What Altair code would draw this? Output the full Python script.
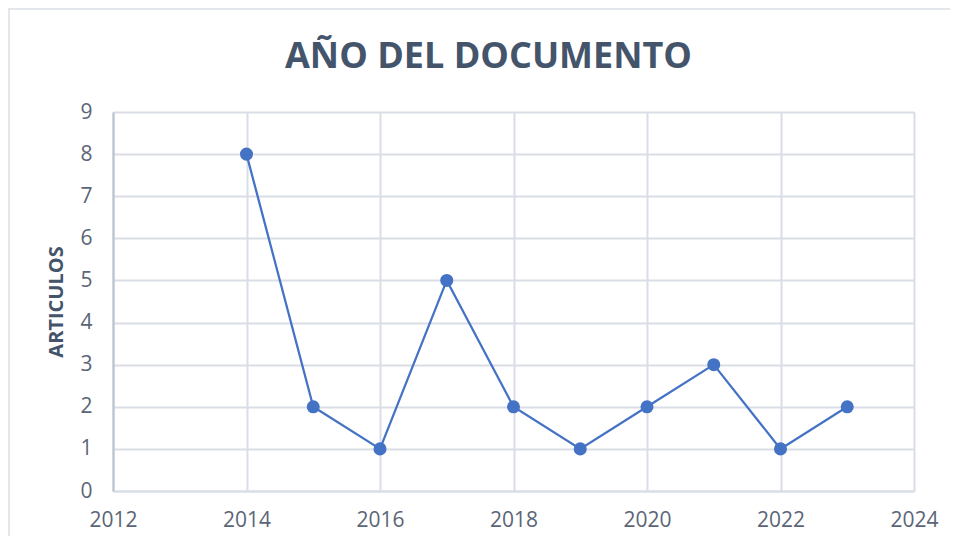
import altair as alt
import pandas as pd

years = [2014, 2015, 2016, 2017, 2018, 2019, 2020, 2021, 2022, 2023]
articulos = [8, 2, 1, 5, 2, 1, 2, 3, 1, 2]
x_ticks = [2012, 2014, 2016, 2018, 2020, 2022, 2024]
y_ticks = [0, 1, 2, 3, 4, 5, 6, 7, 8, 9]
title_text = ["AÑO DEL DOCUMENTO"]

df = pd.DataFrame({"year": years, "n": articulos})

TEXT = "#44546A"
TICK = "#5B6577"
GRID = "#D9DEE6"
BLUE = "#4472C4"

W, H = 801, 379

base = alt.Chart(df).encode(
    x=alt.X("year:Q", scale=alt.Scale(domain=[2012, 2024], nice=False, zero=False),
            axis=alt.Axis(values=x_ticks, format="d", title=None, labelFont="Open Sans",
                          labelFontSize=21, labelColor=TICK, labelPadding=18, tickSize=0,
                          labelFlush=False,
                          domainColor=GRID, domainWidth=2, gridColor=GRID, gridWidth=2)),
    y=alt.Y("n:Q", scale=alt.Scale(domain=[0, 9], nice=False),
            axis=alt.Axis(values=y_ticks, format="d", title="ARTICULOS", titleFont="Open Sans",
                          titleFontSize=20, titleFontWeight="bold", titleColor=TEXT,
                          titlePadding=13, labelFont="Open Sans", labelFontSize=21,
                          labelColor=TICK, labelPadding=21, tickSize=0, labelFlush=False,
                          domainColor="#B8C2D0", domainWidth=2, gridColor=GRID, gridWidth=2)),
)

line = base.mark_line(color=BLUE, strokeWidth=2.25)
pts = base.mark_point(filled=True, color=BLUE, size=170, opacity=1)

border = alt.Chart(pd.DataFrame({"a": [0]})).mark_rect(
    fill=None, stroke="#E3E6EA", strokeWidth=2
).encode(x=alt.value(-104), x2=alt.value(W + 300), y=alt.value(-103), y2=alt.value(H + 300))

title = alt.Chart(pd.DataFrame({"t": title_text})).mark_text(
    font="Open Sans", fontSize=36, fontWeight="bold", color=TEXT,
    align="center", baseline="alphabetic"
).encode(text="t:N", x=alt.value(W / 2 - 25), y=alt.value(-44))

chart = alt.layer(border, line, pts, title).properties(
    width=W, height=H,
    autosize=alt.AutoSizeParams(type="none"),
    padding={"left": 105, "top": 104, "right": 36, "bottom": 45},
).configure_view(stroke=None).configure(background="white")

chart.save("out.html", embed_options={"renderer": "svg", "actions": False})
